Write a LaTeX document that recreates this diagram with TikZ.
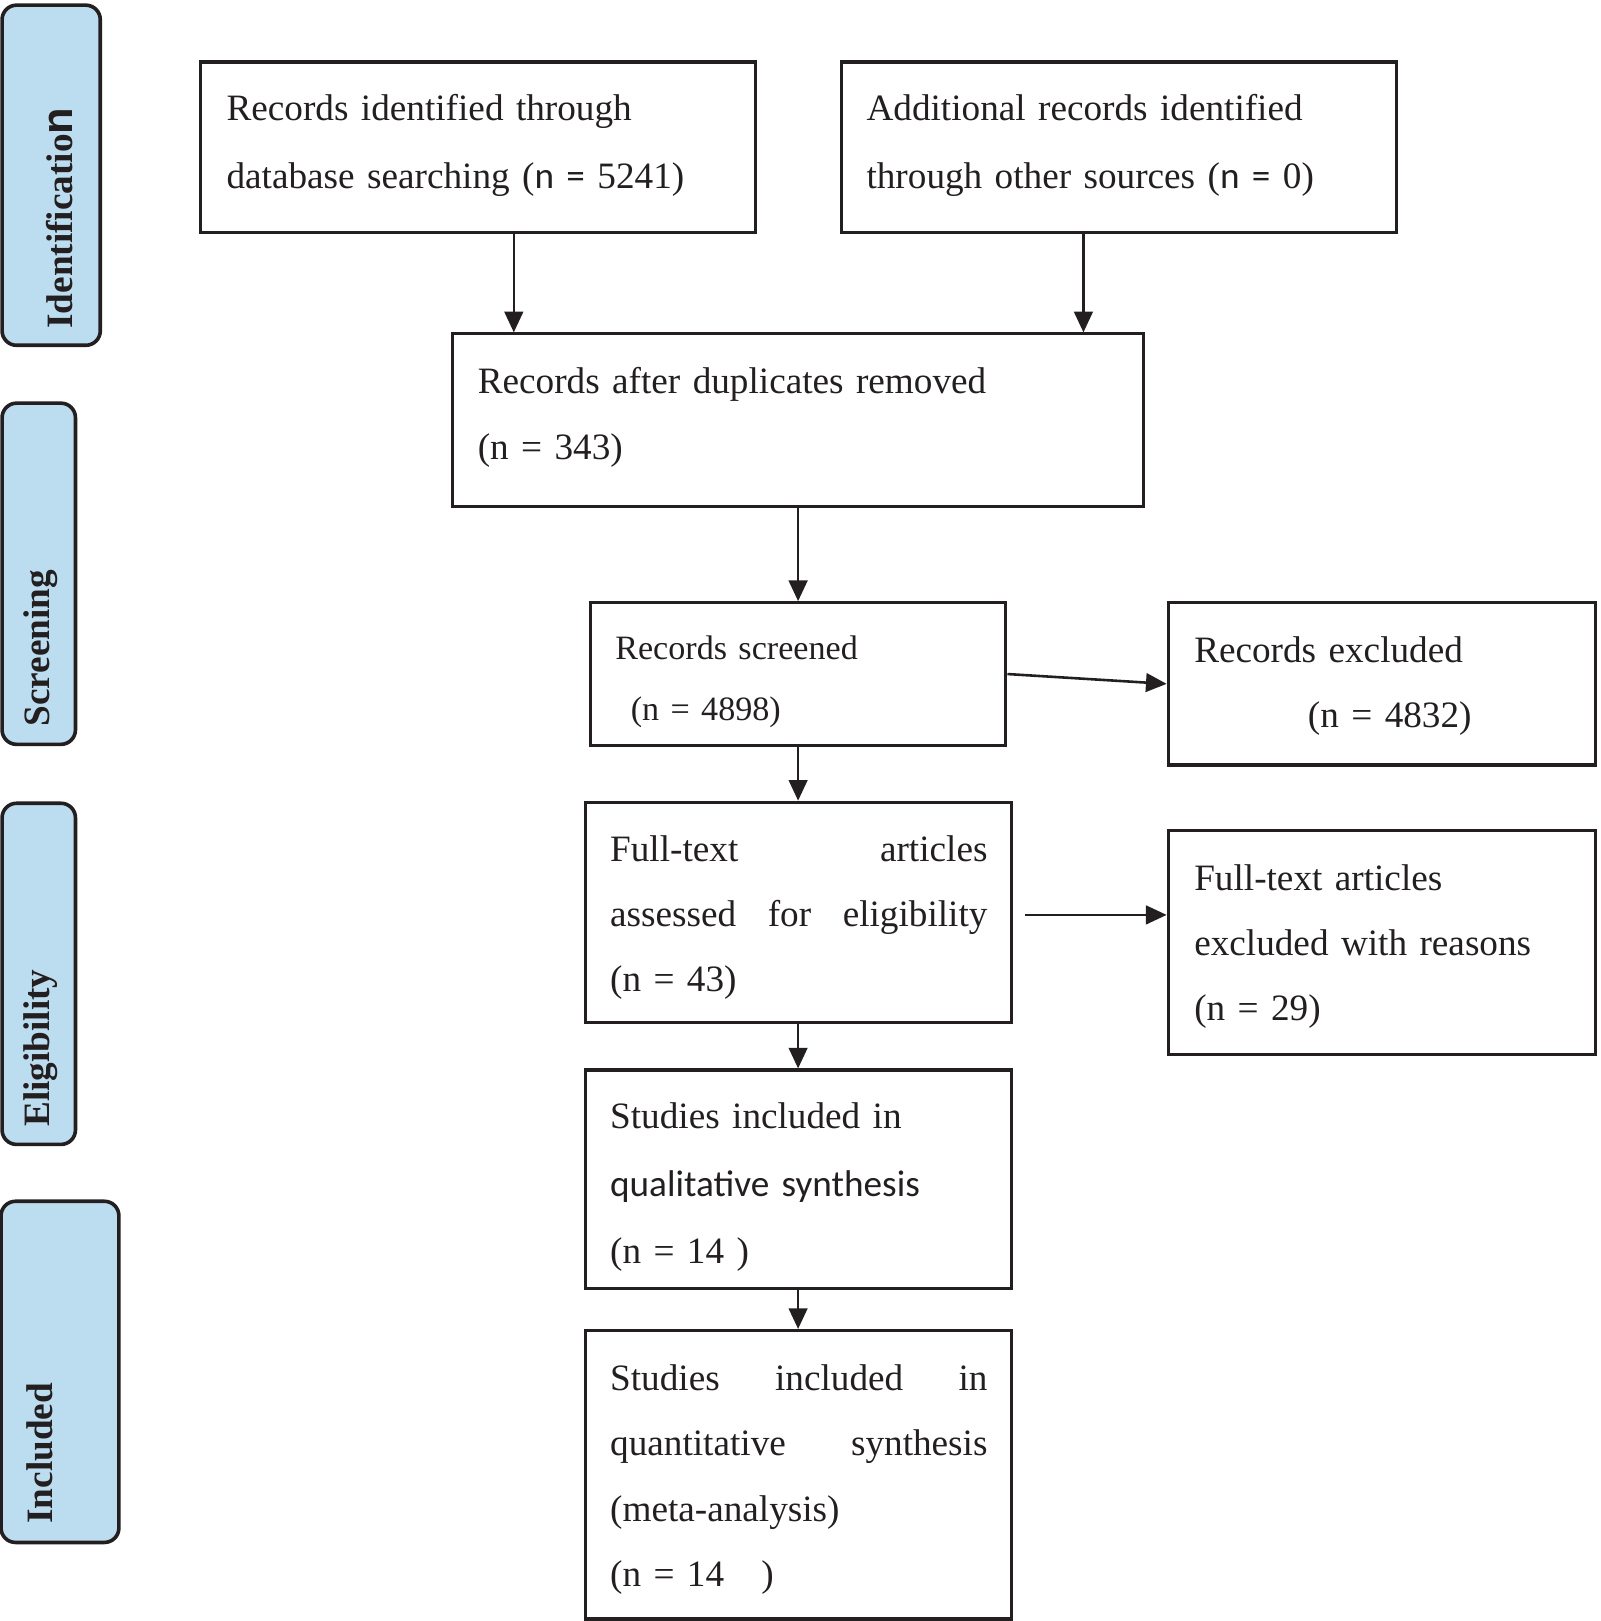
\documentclass[tikz,border=0pt]{standalone}
\usepackage{fontspec}
\setmainfont{Liberation Serif}
\setsansfont{Carlito}
\newfontfamily\labsans{Liberation Sans}
\usetikzlibrary{arrows.meta}
\definecolor{ink}{HTML}{231F20}
\definecolor{stagefill}{HTML}{BCDDEF}
\tikzset{
  box/.style={draw=ink, line width=3pt, rectangle, inner sep=0pt},
  stage/.style={draw=ink, fill=stagefill, line width=3.5pt, rounded corners=14pt, inner sep=0pt},
  stagetext/.style={rotate=90, anchor=base west, inner sep=0pt, text=ink, font=\fontsize{36}{36}\selectfont\bfseries},
  txt/.style={anchor=base west, inner sep=0pt, align=left, text=ink, text width=560pt},
  arr/.style={draw=ink, line width=2.5pt, -{Triangle[length=20pt,width=18pt]}},
}
\begin{document}
\begin{tikzpicture}[x=1pt,y=-1pt]
\useasboundingbox (0,0) rectangle (1548,1568);
% stage labels
\node[stage, minimum width=95pt, minimum height=329pt] (s1) at (49.5,169.5) {};
\node[stage, minimum width=71pt, minimum height=330pt] (s2) at (37.5,555) {};
\node[stage, minimum width=71pt, minimum height=330pt] (s3) at (37.5,942) {};
\node[stage, minimum width=114pt, minimum height=330pt] (s4) at (58,1327) {};
\node[stagetext] (s1t) at (70,318) {Identificatio{\labsans\fontsize{42}{42}\selectfont n}};
\node[stagetext] (s2t) at (48,703) {Screening};
\node[stagetext] (s3t) at (48,1090) {Eligibility};
\node[stagetext] (s4t) at (51,1474) {Included};
% boxes
\node[box, minimum width=537pt, minimum height=165pt] (b1) at (462.5,142.5) {};
\node[box, minimum width=537pt, minimum height=165pt] (b2) at (1082.5,142.5) {};
\node[box, minimum width=668pt, minimum height=167pt] (b3) at (772,406.5) {};
\node[box, minimum width=402pt, minimum height=138pt] (b4) at (772,652) {};
\node[box, minimum width=413pt, minimum height=157pt] (b5) at (1336.5,661.5) {};
\node[box, minimum width=412pt, minimum height=213pt] (b6) at (772,882.5) {};
\node[box, minimum width=413pt, minimum height=217pt] (b7) at (1336.5,911.5) {};
\node[box, minimum width=412pt, minimum height=211pt] (b8) at (772,1140.5) {};
\node[box, minimum width=412pt, minimum height=279pt] (b9) at (772,1426.5) {};
% texts
\node[txt, font=\fontsize{36}{65}\selectfont] (t1) at (219,117) {Records identified through\\database searching ({\sffamily n =} 5241)};
\node[txt, font=\fontsize{36}{65}\selectfont] (t2) at (838,117) {Additional records identified\\through other sources ({\sffamily n =} 0)};
\node[txt, font=\fontsize{36}{63}\selectfont] (t3) at (462,381) {Records after duplicates removed\\(n = 343)};
\node[txt, font=\fontsize{33}{59}\selectfont] (t4) at (595,638) {Records screened\\\hspace*{15pt}(n = 4898)};
\node[txt, font=\fontsize{36}{63}\selectfont] (t5) at (1155,641) {Records excluded\\\hspace*{110pt}(n = 4832)};
\node[txt, text width=365pt, font=\fontsize{36}{63}\selectfont] (t6) at (590,833) {Full-text\hfill articles\\assessed\hfill for\hfill eligibility\\(n = 43)};
\node[txt, font=\fontsize{36}{63}\selectfont] (t7) at (1155,861) {Full-text articles\\excluded with reasons\\(n = 29)};
\node[txt, font=\fontsize{36}{65}\selectfont] (t8) at (590,1092) {Studies included in\\{\sffamily qualitative synthesis}\\(n = 14 )};
\node[txt, text width=365pt, font=\fontsize{36}{63.3}\selectfont] (t9) at (590,1345) {Studies\hfill included\hfill in\\quantitative\hfill synthesis\\(meta-analysis)\\(n = 14\ \ \ )};
% connectors
\draw[arr] ([xshift=34.5pt]b1.south) -- ([xshift=34.5pt]b1.south |- b3.north);
\draw[arr] ([xshift=-34.5pt]b2.south) -- ([xshift=-34.5pt]b2.south |- b3.north);
\draw[arr] (b3.south) -- (b4.north);
\draw[arr] (b4.east) -- (b5.west);
\draw[arr] (b4.south) -- (b6.north);
\draw[arr] ([xshift=12pt,yshift=-2.5pt]b6.east) -- ([yshift=-2.5pt]b6.east -| b7.west);
\draw[arr] (b6.south) -- (b8.north);
\draw[arr] (b8.south) -- (b9.north);
\end{tikzpicture}
\end{document}
